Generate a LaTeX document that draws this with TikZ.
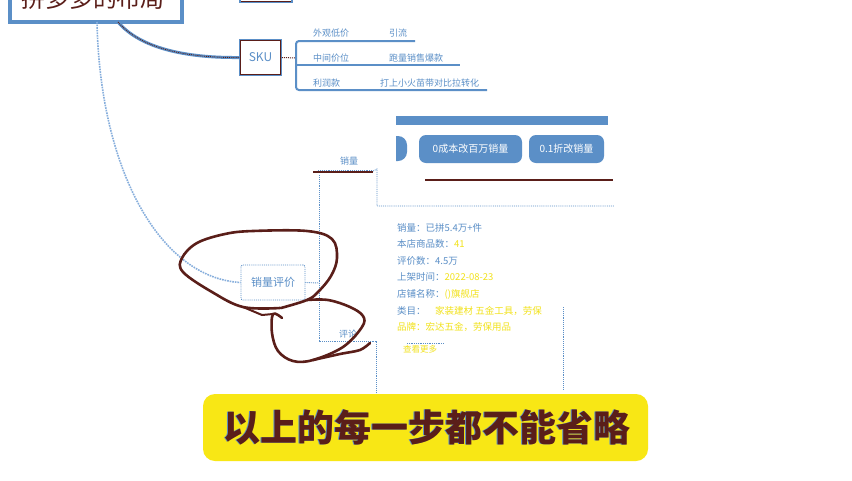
\documentclass[tikz,border=0pt]{standalone}
\usepackage{fontspec}
\newfontfamily\cjk{Noto Sans CJK SC}
\usetikzlibrary{calc}
\definecolor{mapblue}{HTML}{5B8FC7}
\definecolor{paleblue}{HTML}{86AEDC}
\definecolor{inkbrown}{HTML}{5A1E19}
\definecolor{hiyellow}{HTML}{F2E21A}
\definecolor{capyellow}{HTML}{F8E715}
\tikzset{
  every node/.style={font=\cjk, inner sep=0pt},
  topicbox/.style={draw=mapblue, line width=3.4pt, fill=white},
  skubox/.style={draw=mapblue, line width=1.8pt, fill=white, minimum width=41pt, minimum height=35pt, text=mapblue, font=\cjk\fontsize{12}{12}\selectfont},
  leaf/.style={text=mapblue, anchor=west, font=\cjk\fontsize{9}{9}\selectfont},
  branch/.style={draw=mapblue, line width=2pt},
  dotline/.style={draw=mapblue, densely dotted, line width=0.9pt},
  pillbtn/.style={fill=mapblue, rounded corners=7pt, text=white, font=\cjk\fontsize{10}{10}\selectfont},
  info/.style={anchor=west, text=mapblue, font=\cjk\fontsize{9.5}{9.5}\selectfont},
  loopink/.style={draw=inkbrown, line width=2.6pt, line cap=round, line join=round},
}
\begin{document}
\begin{tikzpicture}[x=1pt,y=-1pt]
\useasboundingbox (0,0) rectangle (852,480);
\clip (0,0) rectangle (852,480);
\fill[white] (0,0) rectangle (852,480);

% root topic, cut by the top edge
\draw[topicbox] (10,-30) rectangle (182,22);
\node[text=inkbrown, font=\cjk\fontsize{24}{24}\selectfont] (root) at (93,-2) {拼多多的布局};
\coordinate (rootA) at (118,22);
\coordinate (rootB) at (97,22);

% neighbouring topic, only its lower edge shows
\draw[draw=mapblue, line width=2.4pt] (240,-20) rectangle (292,2);
\draw[inkbrown, line width=0.6pt] (241,1) -- (291,1);

% SKU branch
\node[skubox] (sku) at (260.5,57.5) {SKU};
\draw[inkbrown, line width=0.6pt] (sku.south west) ++(1.5,-1.5) rectangle ($(sku.north east)+(-1.5,1.5)$);
\draw[mapblue, line width=3pt] (rootA) .. controls (140,48) and (185,58) .. (sku.west);
\draw[inkbrown, densely dotted, line width=0.9pt] (rootA) .. controls (140,48) and (185,58) .. (sku.west);
\coordinate (fork) at (296,58);
\draw[inkbrown, densely dotted, line width=1pt] (sku.east) -- (fork);
\draw[branch, rounded corners=3pt] (415,41) -- (296,41) -- (296,90) -- (487,90);
\draw[branch] (296,65) -- (460,65);

\node[leaf] (l1) at (313,33) {外观低价};
\node[leaf] (r1) at (389,33) {引流};
\node[leaf] (l2) at (313,58) {中间价位};
\node[leaf] (r2) at (389,58) {跑量销售爆款};
\node[leaf] (l3) at (313,83) {利润款};
\node[leaf] (r3) at (380,83) {打上小火苗带对比拉转化};

% sales panel: header bar and buttons
\begin{scope}
  \clip (396,100) rectangle (620,170);
  \fill[mapblue] (380,116) rectangle (608,125);
  \fill[mapblue, rounded corners=9pt] (340,136) rectangle (407,161);
\end{scope}
\node[pillbtn, minimum width=103pt, minimum height=28pt] (btn1) at (470.5,149) {0成本改百万销量};
\node[pillbtn, minimum width=75pt, minimum height=28pt] (btn2) at (566.5,149) {0.1折改销量};
\draw[inkbrown, line width=2.4pt] (425,180) -- (613,180);

% sales label and its links
\node[text=mapblue, font=\cjk\fontsize{9}{9}\selectfont] (sales) at (349,161) {销量};
\draw[inkbrown, line width=2.2pt] (313,172) -- (373,172);
\draw[dotline] (318,170) -- (372,170);
\coordinate (panelTop) at (377,169);
\draw[dotline] (373,171) -- (panelTop) -- (377,206) -- (614,206);

% review topic
\node[draw=mapblue, densely dotted, line width=0.9pt, rounded corners=2pt, minimum width=64pt, minimum height=35pt, text=mapblue, font=\cjk\fontsize{11}{11}\selectfont] (review) at (273,282.5) {销量评价};
\draw[paleblue, line width=1.6pt, densely dotted] (rootB) .. controls (100,170) and (160,278) .. (review.west);
\coordinate (spine) at (319,283);
\draw[dotline] (review.east) -- (spine);
\draw[dotline] (319,175) -- (319,341) -- (376,341) -- (376,395);
\draw[dotline] (563,307) -- (563,390);
\node[text=mapblue, font=\cjk\fontsize{9}{9}\selectfont] (comment) at (348,334) {评论};

% product details
\node[info] (i1) at (397,228) {销量：已拼5.4万+件};
\node[info] (i2) at (397,244) {本店商品数：\textcolor{hiyellow}{41}};
\node[info] (i3) at (397,261) {评价数：4.5万};
\node[info] (i4) at (397,277) {上架时间：\textcolor{hiyellow}{2022-08-23}};
\node[info] (i5) at (397,294) {店铺名称：\textcolor{hiyellow}{()旗舰店}};
\node[info] (i6) at (397,311) {类目：\quad\textcolor{hiyellow}{家装建材 五金工具，劳保}};
\node[info, text=hiyellow] (i7) at (397,327) {品牌：宏达五金，劳保用品};
\node[info, text=hiyellow, font=\cjk\fontsize{8.5}{8.5}\selectfont] (i8) at (403,349) {查看更多};
\draw[mapblue, densely dotted, line width=0.8pt] (407,343) -- (444,343);

% hand-drawn loops around the review topic
\draw[loopink] plot[smooth, tension=0.6] coordinates {
  (280,308) (243,307) (212,292) (183,272) (182,258) (197,243) (225,234)
  (253,231) (307,231) (332,239) (337,258) (331,276) (318,292) (307,300)
  (281,308)};
\draw[loopink] plot[smooth, tension=0.6] coordinates {
  (307,300) (328,300) (350,307) (363,316) (362,327) (343,347) (313,360)
  (293,361) (278,351) (272,333) (273,314) (282,318)};
\draw[loopink] plot[smooth, tension=0.5] coordinates {(313,360) (340,354) (360,350) (370,343)};
\draw[loopink, line width=2pt] (243,307) -- (262,315) -- (273,314);

% caption banner
\fill[capyellow, rounded corners=12pt] (203,394) rectangle (648,461);
\node[text=mapblue, font=\cjk\bfseries\fontsize{37}{37}\selectfont] at (426.4,427) {以上的每一步都不能省略};
\node[text=inkbrown, font=\cjk\bfseries\fontsize{37}{37}\selectfont] (caption) at (427,427) {以上的每一步都不能省略};
\end{tikzpicture}
\end{document}
